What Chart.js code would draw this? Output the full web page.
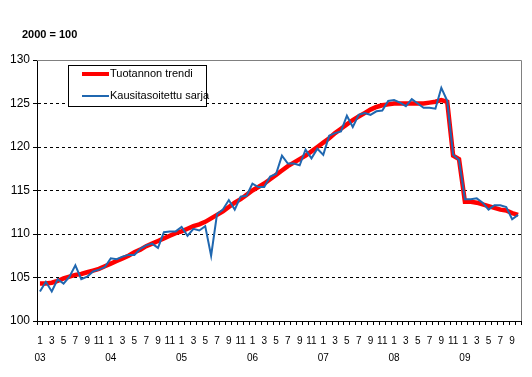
<!DOCTYPE html>
<html>
<head>
<meta charset="utf-8">
<script src="https://cdn.jsdelivr.net/npm/chart.js@4/dist/chart.umd.min.js"></script>
<style>
  html, body { margin: 0; padding: 0; background: #fff; }
  #wrap { width: 532px; height: 377px; }
</style>
</head>
<body>
<div id="wrap"><canvas id="c"></canvas></div>
<script>
const FONT = '"Liberation Sans", Arial, sans-serif';

// monthly, Jan 2003 .. Oct 2009
const years = ['03', '04', '05', '06', '07', '08', '09'];
const lastMonth = 10;

const trend = [
    104.3, 104.3, 104.4, 104.6, 104.9, 105.1, 105.3, 105.4, 105.6, 105.8, 106.0, 106.3,
    106.6, 106.9, 107.2, 107.5, 107.9, 108.2, 108.6, 108.9, 109.2, 109.5, 109.8, 110.1,
    110.3, 110.6, 110.9, 111.1, 111.4, 111.8, 112.2, 112.6, 113.1, 113.6, 114.0, 114.5,
    115.0, 115.4, 115.8, 116.3, 116.8, 117.3, 117.8, 118.2, 118.6, 119.0, 119.5, 120.0,
    120.5, 121.0, 121.6, 122.1, 122.6, 123.1, 123.5, 123.9, 124.3, 124.6, 124.8, 124.9,
    125.0, 125.0, 125.0, 125.0, 125.0, 125.0, 125.1, 125.2, 125.4, 125.2, 119.0, 118.6,
    113.7, 113.7, 113.6, 113.4, 113.2, 113.0, 112.8, 112.7, 112.4, 112.2
];

const seasAdj = [
    103.4, 104.5, 103.4, 104.8, 104.3, 105.1, 106.4, 104.8, 105.1, 105.7, 105.9, 106.2,
    107.2, 107.1, 107.4, 107.6, 107.6, 108.3, 108.7, 108.9, 108.4, 110.2, 110.3, 110.3,
    110.8, 109.8, 110.6, 110.4, 110.9, 107.5, 112.3, 112.8, 113.9, 112.8, 114.3, 114.4,
    115.8, 115.4, 115.4, 116.6, 116.9, 119.0, 118.1, 118.1, 117.9, 119.7, 118.7, 119.8,
    119.1, 121.3, 121.6, 121.8, 123.6, 122.3, 123.7, 123.9, 123.7, 124.1, 124.2, 125.3,
    125.4, 125.1, 124.7, 125.5, 125.0, 124.5, 124.5, 124.4, 126.8, 125.3, 119.1, 118.5,
    114.0, 114.0, 114.1, 113.6, 112.8, 113.3, 113.3, 113.1, 111.7, 112.2
];

const seriesNames = ['Tuotannon trendi', 'Kausitasoitettu sarja'];
const seriesColors = ['#ff0000', '#1f67b0'];
const yTicks = [100, 105, 110, 115, 120, 125, 130];
const baseLabel = '2000 = 100';

const labels = [];
years.forEach((y, yi) => {
    const n = yi === years.length - 1 ? lastMonth : 12;
    for (let m = 1; m <= n; m++) labels.push({ y, m });
});

const decor = {
    id: 'decor',
    afterDatasetsDraw(chart) {
        const { ctx, chartArea: a } = chart;
        ctx.save();

        // grey frame top + right
        ctx.strokeStyle = '#808080';
        ctx.lineWidth = 1;
        ctx.beginPath();
        ctx.moveTo(a.left, a.top + 0.5);
        ctx.lineTo(a.right + 0.5, a.top + 0.5);
        ctx.lineTo(a.right + 0.5, a.bottom);
        ctx.stroke();

        // base-year note
        ctx.fillStyle = '#000';
        ctx.font = 'bold 11px ' + FONT;
        ctx.textBaseline = 'middle';
        ctx.textAlign = 'left';
        ctx.fillText(baseLabel, 22, 35);

        // legend box
        ctx.fillStyle = '#fff';
        ctx.fillRect(68, 65, 138, 41);
        ctx.strokeStyle = '#000';
        ctx.strokeRect(68.5, 65.5, 138, 41);

        const rows = [74, 96];
        const widths = [4, 2];
        ctx.font = '11px ' + FONT;
        rows.forEach((ry, i) => {
            ctx.strokeStyle = seriesColors[i];
            ctx.lineWidth = widths[i];
            ctx.beginPath();
            ctx.moveTo(82, ry);
            ctx.lineTo(109, ry);
            ctx.stroke();
            ctx.fillStyle = '#000';
            ctx.fillText(seriesNames[i], 110, ry);
        });
        ctx.restore();
    }
};

new Chart(document.getElementById('c'), {
    type: 'line',
    data: {
        labels: labels.map(l => l.y + '-' + l.m),
        datasets: [
            {
                label: seriesNames[0],
                data: trend,
                borderColor: seriesColors[0],
                borderWidth: 4.5,
                pointRadius: 0,
                tension: 0,
                order: 1
            },
            {
                label: seriesNames[1],
                data: seasAdj,
                borderColor: seriesColors[1],
                borderWidth: 2,
                pointRadius: 0,
                tension: 0,
                order: 0
            }
        ]
    },
    options: {
        responsive: true,
        maintainAspectRatio: false,
        animation: false,
        devicePixelRatio: 1,
        layout: { padding: { left: 0, right: 11, top: 60, bottom: 0 } },
        plugins: {
            legend: { display: false },
            tooltip: { enabled: false }
        },
        scales: {
            x: {
                offset: true,
                afterFit: s => { s.height = 56; },
                grid: {
                    offset: true,
                    drawOnChartArea: false,
                    color: 'rgba(0,0,0,0)',
                    tickColor: '#000',
                    tickLength: 4
                },
                border: { color: '#000', width: 1 },
                ticks: {
                    autoSkip: false,
                    maxRotation: 0,
                    minRotation: 0,
                    padding: 8,
                    color: '#000',
                    font: { family: FONT, size: 10, lineHeight: 1.7 },
                    callback: (v, i) => {
                        const l = labels[i];
                        if (l.m % 2 === 0) return '';
                        return l.m === 1 ? [String(l.m), l.y] : String(l.m);
                    }
                }
            },
            y: {
                min: 100,
                max: 130,
                afterFit: s => { s.width = 37; },
                afterBuildTicks: s => { s.ticks = yTicks.map(v => ({ value: v })); },
                grid: {
                    color: c => (c.tick && (c.tick.value === 100 || c.tick.value === 130)) ? 'rgba(0,0,0,0)' : '#000',
                    tickColor: '#000',
                    tickLength: 4
                },
                border: { color: '#000', width: 1, dash: [3, 3] },
                ticks: {
                    padding: 3,
                    color: '#000',
                    font: { family: FONT, size: 12 }
                }
            }
        }
    },
    plugins: [decor]
});
</script>
</body>
</html>
